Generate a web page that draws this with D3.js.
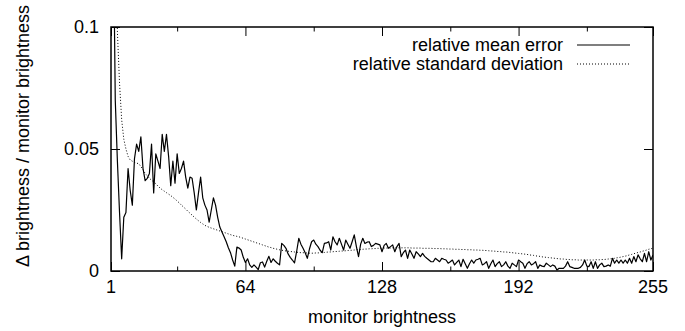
<!DOCTYPE html>
<html>
<head>
<meta charset="utf-8">
<script src="https://cdnjs.cloudflare.com/ajax/libs/d3/7.8.5/d3.min.js"></script>
<style>
  body { margin: 0; background: #fff; }
  svg { display: block; }
  text { font-family: "Liberation Sans", Arial, Helvetica, sans-serif; font-size: 18px; fill: #000; }
</style>
</head>
<body>
<div id="chart"></div>
<script>
// one value per monitor brightness, starting at brightness 1
const meanError = [
  0.30, 0.15, 0.07, 0.045, 0.024, 0.005, 0.022, 0.024, 0.042, 0.033,
  0.027, 0.046, 0.052, 0.049, 0.055, 0.042, 0.037, 0.038, 0.040, 0.052,
  0.032, 0.048, 0.045, 0.042, 0.056, 0.049, 0.056, 0.047, 0.035, 0.045,
  0.036, 0.048, 0.040, 0.042, 0.045, 0.0385, 0.034, 0.0385, 0.038, 0.032,
  0.025, 0.032, 0.0385, 0.030, 0.027, 0.025, 0.020, 0.025, 0.030, 0.027,
  0.022, 0.018, 0.016, 0.014, 0.012, 0.0095, 0.0075, 0.0045, 0.002, 0.0098,
  0.0094, 0.0086, 0.0056, 0.0035, 0.005, 0.0025, 0.0015, 0.0025, 0.0016, 0.0006,
  0.0034, 0.0037, 0.0016, 0.004, 0.006, 0.0035, 0.005, 0.004, 0.0032, 0.0025,
  0.0113, 0.0105, 0.0093, 0.007, 0.0056, 0.0045, 0.0033, 0.008, 0.0134, 0.011,
  0.0093, 0.0075, 0.0052, 0.009, 0.012, 0.0127, 0.011, 0.010, 0.0085, 0.0075,
  0.0113, 0.0115, 0.012, 0.0086, 0.014, 0.012, 0.0107, 0.0134, 0.011, 0.0086,
  0.0127, 0.011, 0.0093, 0.012, 0.0148, 0.010, 0.0059, 0.011, 0.0134, 0.0113,
  0.0118, 0.012, 0.010, 0.0105, 0.0113, 0.011, 0.0107, 0.0079, 0.0105, 0.0113,
  0.0093, 0.010, 0.0107, 0.0079, 0.010, 0.0113, 0.0059, 0.0075, 0.0086, 0.0052,
  0.0086, 0.007, 0.0052, 0.0079, 0.007, 0.0059, 0.0072, 0.006, 0.0052, 0.0045,
  0.0038, 0.0038, 0.0052, 0.0045, 0.0038, 0.0052, 0.0048, 0.0045, 0.0032, 0.0038,
  0.0045, 0.0025, 0.0035, 0.0045, 0.0018, 0.0048, 0.003, 0.0011, 0.003, 0.0045,
  0.0032, 0.0045, 0.0048, 0.0052, 0.0025, 0.003, 0.0038, 0.0011, 0.003, 0.0045,
  0.0018, 0.003, 0.0038, 0.0018, 0.0025, 0.0038, 0.002, 0.0011, 0.0032, 0.0025,
  0.0018, 0.0045, 0.0038, 0.0032, 0.0011, 0.003, 0.0038, 0.0025, 0.003, 0.0038,
  0.0011, 0.0025, 0.002, 0.0018, 0.0032, 0.0025, 0.0018, 0.0025, 0.002, 0.0004,
  0.0011, 0.0011, 0.0011, 0.002, 0.0038, 0.0018, 0.0015, 0.0011, 0.0011, 0.0011,
  0.0015, 0.0025, 0.0045, 0.002, 0.0018, 0.0038, 0.0011, 0.0038, 0.0011, 0.0025,
  0.0032, 0.0018, 0.002, 0.0025, 0.002, 0.0052, 0.0032, 0.0045, 0.0032, 0.0045,
  0.0032, 0.0045, 0.0032, 0.0052, 0.0032, 0.0059, 0.0038, 0.0066, 0.005, 0.0038,
  0.0072, 0.0038, 0.0079, 0.0045, 0.0066
];

const stdDeviation = [
  0.30, 0.19, 0.13, 0.098, 0.077, 0.062, 0.054, 0.050, 0.047, 0.0455,
  0.045, 0.0445, 0.0442, 0.044, 0.0428, 0.0415, 0.040, 0.039, 0.038, 0.0372,
  0.0365, 0.0358, 0.0348, 0.034, 0.0333, 0.0327, 0.0321, 0.0315, 0.0309, 0.0302,
  0.0295, 0.0287, 0.0279, 0.027, 0.0262, 0.0254, 0.0245, 0.0237, 0.0229, 0.0221,
  0.0213, 0.0206, 0.0199, 0.0193, 0.0187, 0.0183, 0.0179, 0.0176, 0.0173, 0.017,
  0.0167, 0.0164, 0.0161, 0.0158, 0.0155, 0.0152, 0.0149, 0.0146, 0.0144, 0.0142,
  0.0140, 0.0137, 0.0134, 0.0131, 0.0128, 0.0125, 0.0122, 0.0119, 0.0116, 0.0113,
  0.0110, 0.0107, 0.0104, 0.0101, 0.0098, 0.0096, 0.0093, 0.0091, 0.0089, 0.0087,
  0.0085, 0.0084, 0.0082, 0.0081, 0.0080, 0.0079, 0.0078, 0.0077, 0.0076, 0.0075,
  0.0075, 0.0074, 0.0074, 0.0073, 0.0073, 0.0073, 0.0074, 0.0074, 0.0075, 0.0076,
  0.0076, 0.0077, 0.0078, 0.0078, 0.0079, 0.0080, 0.0080, 0.0081, 0.0082, 0.0082,
  0.0083, 0.0084, 0.0085, 0.0085, 0.0086, 0.0087, 0.0088, 0.0088, 0.0089, 0.0090,
  0.0090, 0.0091, 0.0091, 0.0092, 0.0092, 0.0093, 0.0093, 0.0093, 0.0094, 0.0094,
  0.0094, 0.0094, 0.0095, 0.0095, 0.0095, 0.0095, 0.0095, 0.0095, 0.0095, 0.0095,
  0.0095, 0.0094, 0.0094, 0.0094, 0.0094, 0.0094, 0.0093, 0.0093, 0.0093, 0.0093,
  0.0093, 0.0092, 0.0092, 0.0092, 0.0092, 0.0091, 0.0091, 0.0091, 0.0090, 0.0090,
  0.0090, 0.0089, 0.0089, 0.0089, 0.0088, 0.0088, 0.0088, 0.0087, 0.0087, 0.0087,
  0.0086, 0.0086, 0.0086, 0.0085, 0.0085, 0.0084, 0.0084, 0.0083, 0.0082, 0.0082,
  0.0081, 0.0080, 0.0080, 0.0079, 0.0078, 0.0078, 0.0077, 0.0076, 0.0075, 0.0074,
  0.0073, 0.0072, 0.0071, 0.0070, 0.0069, 0.0068, 0.0066, 0.0065, 0.0064, 0.0062,
  0.0061, 0.0060, 0.0058, 0.0057, 0.0056, 0.0055, 0.0054, 0.0053, 0.0052, 0.0051,
  0.0050, 0.0049, 0.0049, 0.0048, 0.0047, 0.0047, 0.0046, 0.0046, 0.0046, 0.0045,
  0.0045, 0.0045, 0.0045, 0.0045, 0.0045, 0.0045, 0.0045, 0.0046, 0.0046, 0.0046,
  0.0047, 0.0047, 0.0048, 0.0049, 0.0050, 0.0051, 0.0052, 0.0054, 0.0055, 0.0057,
  0.0059, 0.0061, 0.0063, 0.0066, 0.0068, 0.0071, 0.0073, 0.0076, 0.0078, 0.0081,
  0.0083, 0.0086, 0.0089, 0.0091, 0.0094
];

const xTickValues = [1, 64, 128, 192, 255];
const xMinorTickValues = [32, 96, 160, 224];
const yTickValues = [0, 0.05, 0.1];
const yTickLabels = ['0', '0.05', '0.1'];
const seriesLabels = ['relative mean error', 'relative standard deviation'];
const xTitle = 'monitor brightness';
const yTitle = 'Δ brightness / monitor brightness';

const width = 685;
const height = 331;
const marginTop = 27;
const marginRight = 32;
const marginBottom = 60;
const marginLeft = 111;
const innerWidth = width - marginLeft - marginRight;
const innerHeight = height - marginTop - marginBottom;
const majorTick = 9;
const minorTick = 4.5;

const svg = d3.select('#chart')
  .append('svg')
  .attr('width', width)
  .attr('height', height)
  .attr('viewBox', '0 0 ' + width + ' ' + height);

// scales in page coordinates
const x = d3.scaleLinear().domain([1, 255]).range([marginLeft, width - marginRight]);
const y = d3.scaleLinear().domain([0, 0.1]).range([height - marginBottom, marginTop]);

// tick marks only, pointing inward like gnuplot; labels are drawn separately
function tickAxis(g) {
  g.select('.domain').remove();
  g.selectAll('text').remove();
  g.selectAll('line').attr('stroke', '#000').attr('stroke-width', 1);
}

svg.append('g')
  .attr('transform', 'translate(0,' + y(0) + ')')
  .call(d3.axisBottom(x).tickValues(xTickValues).tickSize(-majorTick))
  .call(tickAxis);

svg.append('g')
  .attr('transform', 'translate(0,' + y(0) + ')')
  .call(d3.axisBottom(x).tickValues(xMinorTickValues).tickSize(-minorTick))
  .call(tickAxis);

svg.append('g')
  .attr('transform', 'translate(0,' + y(0.1) + ')')
  .call(d3.axisTop(x).tickValues(xTickValues).tickSize(-majorTick))
  .call(tickAxis);

svg.append('g')
  .attr('transform', 'translate(0,' + y(0.1) + ')')
  .call(d3.axisTop(x).tickValues(xMinorTickValues).tickSize(-minorTick))
  .call(tickAxis);

svg.append('g')
  .attr('transform', 'translate(' + x(1) + ',0)')
  .call(d3.axisLeft(y).tickValues(yTickValues).tickSize(-majorTick))
  .call(tickAxis);

svg.append('g')
  .attr('transform', 'translate(' + x(255) + ',0)')
  .call(d3.axisRight(y).tickValues(yTickValues).tickSize(-majorTick))
  .call(tickAxis);

// clip lines to the frame
svg.append('defs').append('clipPath')
  .attr('id', 'plot-clip')
  .append('rect')
  .attr('x', marginLeft)
  .attr('y', marginTop)
  .attr('width', innerWidth)
  .attr('height', innerHeight);

const line = d3.line()
  .x((d, i) => x(i + 1))
  .y((d) => y(d));

svg.append('path')
  .datum(stdDeviation)
  .attr('clip-path', 'url(#plot-clip)')
  .attr('fill', 'none')
  .attr('stroke', '#000')
  .attr('stroke-width', 1)
  .attr('stroke-dasharray', '1,2')
  .attr('d', line);

svg.append('path')
  .datum(meanError)
  .attr('clip-path', 'url(#plot-clip)')
  .attr('fill', 'none')
  .attr('stroke', '#000')
  .attr('stroke-width', 1.2)
  .attr('stroke-linejoin', 'round')
  .attr('d', line);

// frame
svg.append('rect')
  .attr('x', marginLeft)
  .attr('y', marginTop)
  .attr('width', innerWidth)
  .attr('height', innerHeight)
  .attr('fill', 'none')
  .attr('stroke', '#000')
  .attr('stroke-width', 1.5);

// tick labels
xTickValues.forEach((d) => {
  svg.append('text')
    .attr('x', x(d))
    .attr('y', y(0) + 22)
    .attr('text-anchor', 'middle')
    .text(d);
});

yTickValues.forEach((d, i) => {
  svg.append('text')
    .attr('x', x(1) - 12)
    .attr('y', y(d) + 6)
    .attr('text-anchor', 'end')
    .text(yTickLabels[i]);
});

// legend
const legendTextX = 563;
const legendLineX1 = 577;
const legendLineX2 = 630;
const legendRowY = [45, 64];

seriesLabels.forEach((label, i) => {
  svg.append('text')
    .attr('x', legendTextX)
    .attr('y', legendRowY[i] + 6)
    .attr('text-anchor', 'end')
    .text(label);
  svg.append('line')
    .attr('x1', legendLineX1)
    .attr('x2', legendLineX2)
    .attr('y1', legendRowY[i])
    .attr('y2', legendRowY[i])
    .attr('stroke', '#000')
    .attr('stroke-width', i === 0 ? 1.2 : 1)
    .attr('stroke-dasharray', i === 0 ? null : '1,2');
});

// axis titles
svg.append('text')
  .attr('x', (x(1) + x(255)) / 2)
  .attr('y', 323)
  .attr('text-anchor', 'middle')
  .text(xTitle);

svg.append('text')
  .attr('transform', 'translate(29,136) rotate(-90)')
  .attr('text-anchor', 'middle')
  .text(yTitle);
</script>
</body>
</html>
